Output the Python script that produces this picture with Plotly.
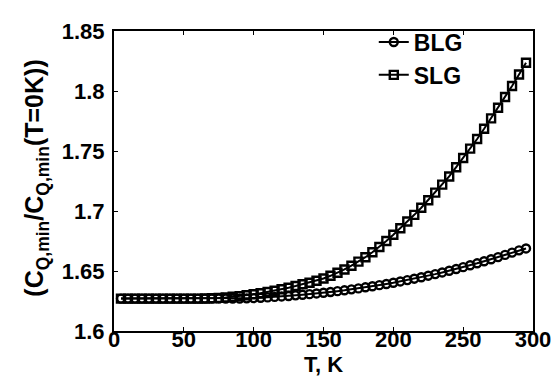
import plotly.graph_objects as go

T = [5, 10, 15, 20, 25, 30, 35, 40, 45, 50, 55, 60, 65, 70, 75, 80, 85, 90, 95, 100,
     105, 110, 115, 120, 125, 130, 135, 140, 145, 150, 155, 160, 165, 170, 175, 180,
     185, 190, 195, 200, 205, 210, 215, 220, 225, 230, 235, 240, 245, 250, 255, 260,
     265, 270, 275, 280, 285, 290, 295]

blg = [1.627, 1.627, 1.627, 1.627, 1.627, 1.627, 1.627, 1.627, 1.627, 1.627, 1.627, 1.627,
       1.627, 1.627, 1.627, 1.627, 1.627, 1.6271, 1.6272, 1.6274,
       1.6277, 1.628, 1.6284, 1.6288, 1.6292, 1.6297, 1.6302, 1.6307, 1.6313, 1.6319,
       1.6325, 1.6332, 1.6339, 1.6347, 1.6355, 1.6364, 1.6373, 1.6382, 1.6392, 1.6402,
       1.6413, 1.6424, 1.6436, 1.6448, 1.6461, 1.6474, 1.6488, 1.6502, 1.6517, 1.6532,
       1.6548, 1.6564, 1.6581, 1.6598, 1.6616, 1.6634, 1.6653, 1.6672, 1.6688]

slg = [1.627, 1.627, 1.627, 1.627, 1.627, 1.627, 1.627, 1.627, 1.627, 1.627, 1.627, 1.627,
       1.6271, 1.6273, 1.6276, 1.628, 1.6285, 1.6291, 1.6298, 1.6306,
       1.6315, 1.6325, 1.6336, 1.6348, 1.6361, 1.6375, 1.639, 1.6402, 1.6419, 1.6438,
       1.646, 1.6485, 1.6513, 1.6544, 1.6578, 1.6615, 1.6656, 1.670, 1.675, 1.6802,
       1.6856, 1.6912, 1.6968, 1.7027, 1.709, 1.7153, 1.722, 1.7288, 1.7365, 1.7442,
       1.752, 1.76, 1.7685, 1.7772, 1.786, 1.795, 1.8042, 1.8137, 1.8235]

x_ticks = [0, 50, 100, 150, 200, 250, 300]
x_labels = ["0", "50", "100", "150", "200", "250", "300"]
y_ticks = [1.6, 1.65, 1.7, 1.75, 1.8, 1.85]
y_labels = ["1.6", "1.65", "1.7", "1.75", "1.8", "1.85"]
x_title = "T, K"
y_title = "(C<sub>Q,min</sub>/C<sub>Q,min</sub>(T=0K))"

FONT = "Arial, 'Liberation Sans', sans-serif"

fig = go.Figure()
fig.add_trace(go.Scatter(
    x=T, y=blg, name="<b>BLG</b>", mode="lines+markers",
    line=dict(color="black", width=2),
    marker=dict(symbol="circle-open", size=8, color="black", line=dict(width=2.4, color="black")),
))
fig.add_trace(go.Scatter(
    x=T, y=slg, name="<b>SLG</b>", mode="lines+markers",
    line=dict(color="black", width=2),
    marker=dict(symbol="square-open", size=8, color="black", line=dict(width=2.4, color="black")),
))

axis_common = dict(
    showgrid=False, zeroline=False, showline=True, linecolor="black", linewidth=2,
    mirror="allticks", ticks="inside", ticklen=4, tickwidth=1, tickcolor="black",
    tickfont=dict(family=FONT, size=22, color="black"),
)

fig.update_layout(
    width=559, height=378,
    margin=dict(l=106, r=34, t=16, b=55),
    paper_bgcolor="white", plot_bgcolor="white",
    font=dict(family=FONT, color="black"),
    xaxis=dict(range=[0, 300], tickvals=x_ticks,
               ticktext=["<b>" + s + "</b>" for s in x_labels],
               ticklabelstandoff=-12, **axis_common),
    yaxis=dict(range=[1.6, 1.85], tickvals=y_ticks,
               ticktext=["<b>" + s + "</b>" for s in y_labels],
               ticklabelstandoff=3, **axis_common),
    legend=dict(x=0.62, y=1.035, xanchor="left", yanchor="top",
                bgcolor="rgba(0,0,0,0)", borderwidth=0,
                font=dict(family=FONT, size=23, color="black"),
                tracegroupgap=0, itemwidth=30),
    showlegend=True,
    annotations=[
        dict(text="<b>" + x_title + "</b>", xref="paper", yref="paper", x=0.5, y=-0.112,
             xanchor="center", yanchor="middle", showarrow=False,
             font=dict(family=FONT, size=22, color="black")),
        dict(text="<b>" + y_title + "</b>", xref="paper", yref="paper", x=-0.186, y=0.508,
             xanchor="center", yanchor="middle", showarrow=False, textangle=-90,
             font=dict(family=FONT, size=25, color="black")),
    ],
)

fig.write_html("out.html")
